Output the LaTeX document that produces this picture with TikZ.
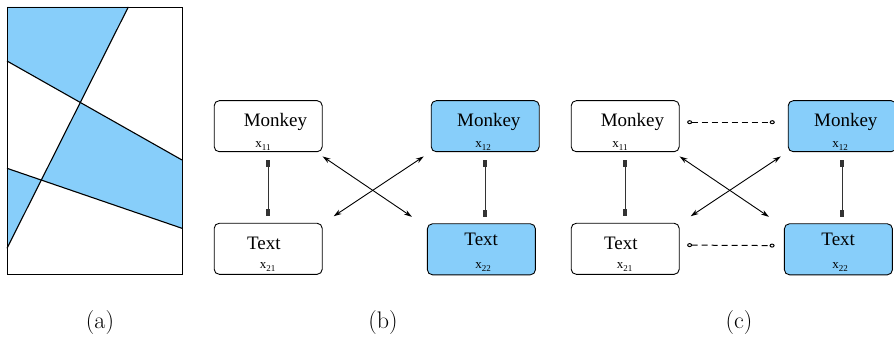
\documentclass[tikz,border=0pt]{standalone}
\usepackage{fontspec}
\newfontfamily\boxfont{Liberation Serif}
\usetikzlibrary{arrows.meta,calc}
\definecolor{skyfill}{RGB}{135,206,250}
\newcommand{\xsub}[1]{x\raisebox{-3pt}{\fontsize{9}{9}\selectfont #1}}

\tikzset{
    box/.style={draw, rounded corners=5pt, minimum width=108pt, minimum height=51pt, inner sep=0pt},
    word/.style={font=\boxfont\fontsize{19}{19}\selectfont, inner sep=0pt, anchor=base west},
    idx/.style={font=\boxfont\fontsize{13}{13}\selectfont, inner sep=0pt, anchor=base west},
    link/.style={{Square[length=7pt,width=4pt]}-{Square[length=7pt,width=4pt]}, line width=1pt, black!80},
    cross/.style={{Stealth[length=8pt,width=5pt]}-{Stealth[length=8pt,width=5pt]}, line width=0.9pt},
    weak/.style={dash pattern=on 6pt off 4pt, line width=1pt, {Circle[open,length=5pt,width=4pt]}-{Circle[open,length=5pt,width=4pt]}},
    caption/.style={font=\fontsize{24}{24}\selectfont}
}

\begin{document}
\begin{tikzpicture}[x=1pt,y=-1pt,line width=0.9pt]
    \useasboundingbox (0,0) rectangle (894,339);

    % (a) partitioned plane
    \fill[skyfill] (7,7) -- (128.3,7) -- (80.5,102.7) -- (7,61) -- cycle;
    \fill[skyfill] (80.5,102.7) -- (182,160) -- (182,228.3) -- (41.5,180) -- cycle;
    \fill[skyfill] (7,168.3) -- (41.5,180) -- (7,248.3) -- cycle;
    \draw[line width=1.1pt] (128.3,7) -- (7,248.3);
    \draw[line width=1.1pt] (7,61) -- (182,160);
    \draw[line width=1.1pt] (7,168.3) -- (182,228.3);
    \draw (7,7) rectangle (182,274);

    % (b) and (c)
    \foreach \p/\dx in {b/0,c/357} {
        \node[box] (m11\p) at (268.2+\dx,126.2) {};
        \node[box] (t21\p) at (268.2+\dx,248.8) {};
        \node[box, fill=skyfill] (m12\p) at (485.2+\dx,126.2) {};
        \node[box, fill=skyfill] (t22\p) at (481.4+\dx,249.3) {};

        \node[word] (wm11\p) at (243.3+\dx,126.7) {Monkey};
        \node[idx] (x11\p) at (255+\dx,147.5) {\xsub{11}};
        \node[word] (wm12\p) at (456.7+\dx,126.7) {Monkey};
        \node[idx] (x12\p) at (475+\dx,147.5) {\xsub{12}};
        \node[word] (wt21\p) at (246.7+\dx,249.3) {Text};
        \node[idx] (x21\p) at (259.3+\dx,268.3) {\xsub{21}};
        \node[word] (wt22\p) at (464+\dx,245) {Text};
        \node[idx] (x22\p) at (475+\dx,268.3) {\xsub{22}};

        % within a column
        \draw[link, shorten <=8pt, shorten >=6.5pt] (m11\p.south) -- (t21\p.north);
        \draw[link, shorten <=8pt, shorten >=6.5pt] (m12\p.south) -- (m12\p.south |- t22\p.north);

        % across columns
        \draw[cross] ([yshift=-4.3pt]m11\p.south east) -- ([xshift=-15pt,yshift=6.5pt]t22\p.north west);
        \draw[cross] ([xshift=-7pt,yshift=-4.3pt]m12\p.south west) -- ([xshift=11pt,yshift=6.6pt]t21\p.north east);
    }

    \draw[weak] ([shift={(7.5pt,4pt)}]m11c.east) -- ([shift={(-13pt,4pt)}]m12c.west);
    \draw[weak] ([shift={(7.5pt,3.7pt)}]t21c.east) -- ([shift={(-9.4pt,3.7pt)}]t22c.west);

    \node[caption] (capa) at (100,323) {(a)};
    \node[caption] (capb) at (383,323) {(b)};
    \node[caption] (capc) at (739,323) {(c)};
\end{tikzpicture}
\end{document}
